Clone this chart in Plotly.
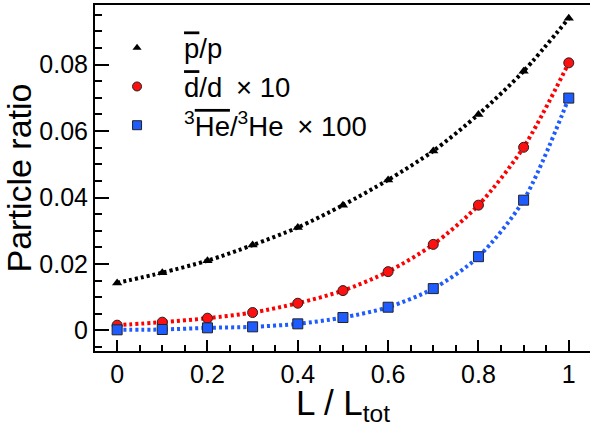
import plotly.graph_objects as go

x_vals = [0.0, 0.1, 0.2, 0.3, 0.4, 0.5, 0.6, 0.7, 0.8, 0.9, 1.0]
pbar_p = [0.0143, 0.0174, 0.0210, 0.0257, 0.0310, 0.0377, 0.0453, 0.0540, 0.0650, 0.0780, 0.0939]
dbar_d_x10 = [0.0016, 0.0025, 0.0037, 0.0054, 0.0082, 0.0120, 0.0177, 0.0259, 0.0377, 0.0551, 0.0805]
he3bar_he3_x100 = [0.0002, 0.0003, 0.0008, 0.0011, 0.0020, 0.0039, 0.0070, 0.0126, 0.0222, 0.0392, 0.0699]

names = [
    '<span style="text-decoration:overline">p</span>/p',
    '<span style="text-decoration:overline">d</span>/d\u2002\u00d7 10',
    '<sup>3</sup><span style="text-decoration:overline">He</span>/<sup>3</sup>He\u2002\u00d7 100',
]
x_title = "L / L<sub>tot</sub>"
y_title = "Particle ratio"
series = [pbar_p, dbar_d_x10, he3bar_he3_x100]
line_colors = ["#000000", "#ff0000", "#1f5cff"]
fill_colors = ["#000000", "#ff1010", "#1f5cff"]
symbols = ["triangle-up", "circle", "square"]
msizes = [9, 10, 10]
lsizes = [8, 9, 9]

fig = go.Figure()
for i, ys in enumerate(series):
    fig.add_trace(go.Scatter(
        x=x_vals, y=ys, mode="lines", showlegend=False,
        line=dict(color=line_colors[i], width=4, dash="3px,3px", shape="spline", smoothing=0.8),
    ))
for i, ys in enumerate(series):
    fig.add_trace(go.Scatter(
        x=x_vals, y=ys, mode="markers", showlegend=False,
        marker=dict(symbol=symbols[i], size=msizes[i], color=fill_colors[i],
                    line=dict(color="#222222", width=1 if i > 0 else 0)),
    ))
for i in range(3):
    fig.add_trace(go.Scatter(
        x=[None], y=[None], mode="markers", name=names[i], legendgroup=f"g{i}",
        marker=dict(symbol=symbols[i], size=lsizes[i], color=fill_colors[i],
                    line=dict(color="#222222", width=1 if i > 0 else 0)),
    ))

font_family = "Liberation Sans, Arial, Helvetica, sans-serif"
fig.update_layout(
    width=590, height=429,
    margin=dict(l=95, r=0, t=5, b=78),
    paper_bgcolor="white", plot_bgcolor="white",
    font=dict(family=font_family, color="black", size=25),
    legend=dict(x=-0.010, y=0.947, xanchor="left", yanchor="top",
                itemwidth=84, tracegroupgap=0, traceorder="grouped",
                bgcolor="rgba(0,0,0,0)", font=dict(size=27.5)),
    xaxis=dict(
        range=[-0.049, 1.047], showgrid=False, zeroline=False,
        showline=True, linecolor="black", linewidth=2, mirror=True,
        ticks="inside", ticklen=11, tickwidth=1.5, tickcolor="black",
        tickvals=[0, 0.2, 0.4, 0.6, 0.8, 1.0], ticktext=["0", "0.2", "0.4", "0.6", "0.8", "1"],
        minor=dict(dtick=0.05, tick0=0, ticks="inside", ticklen=6, tickwidth=1.5, tickcolor="black"),
        tickfont=dict(size=25),
    ),
    yaxis=dict(
        range=[-0.00617, 0.0979], showgrid=False, zeroline=False,
        showline=True, linecolor="black", linewidth=2, mirror=False,
        ticks="inside", ticklen=14, tickwidth=1.5, tickcolor="black",
        tickvals=[0, 0.02, 0.04, 0.06, 0.08], ticktext=["0", "0.02", "0.04", "0.06", "0.08"],
        minor=dict(dtick=0.005, tick0=0, ticks="inside", ticklen=7, tickwidth=1.5, tickcolor="black"),
        tickfont=dict(size=25),
        title=dict(text=y_title, font=dict(size=34), standoff=4),
    ),
    annotations=[dict(text=x_title, xref="paper", yref="paper", x=0.5, y=0,
                      xanchor="center", yanchor="top", yshift=-30, showarrow=False,
                      font=dict(size=35))],
)
fig.write_html("out.html")
